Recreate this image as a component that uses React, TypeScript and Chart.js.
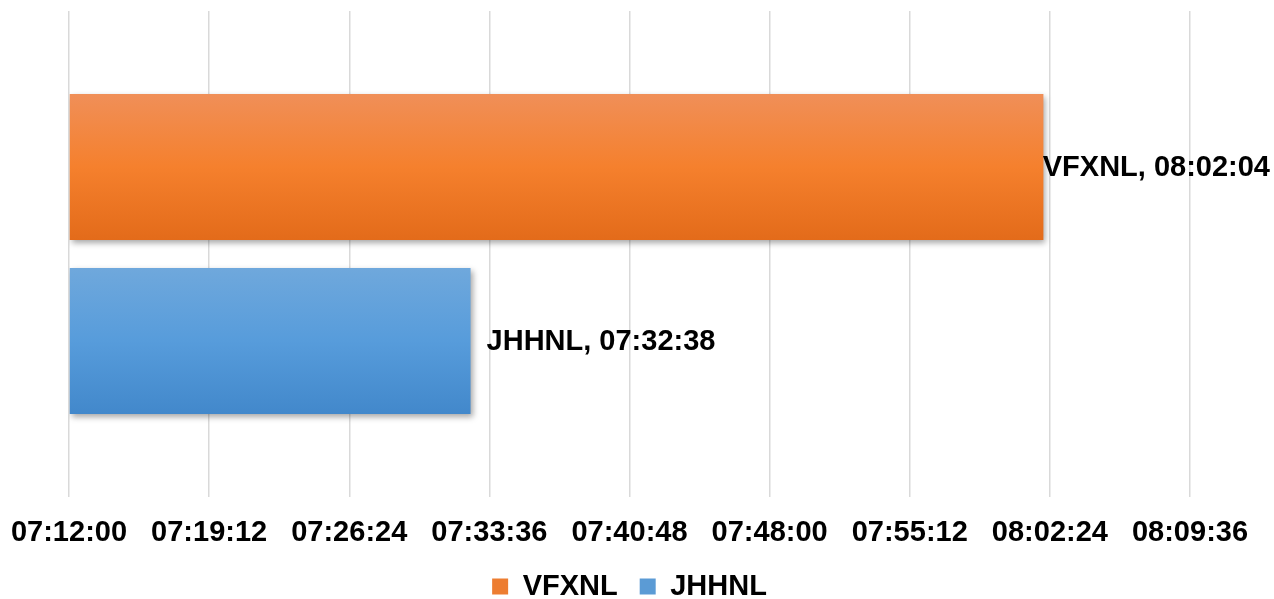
import React, { useEffect, useRef } from "react";
import { Chart, registerables } from "chart.js";

Chart.register(...registerables);

const categories = [""];
const seriesNames = ["VFXNL", "JHHNL"];
const seriesTimes = ["08:02:04", "07:32:38"];
const tickLabels = [
  "07:12:00", "07:19:12", "07:26:24", "07:33:36", "07:40:48",
  "07:48:00", "07:55:12", "08:02:24", "08:09:36",
];
const seriesColors = ["#ED7D31", "#5B9BD5"];
const seriesGradients = [
  ["#F08F58", "#F5802D", "#E36B1A"],
  ["#6FA8DC", "#579CDB", "#4288CB"],
];

const toSec = (t: string) => {
  const [h, m, s] = t.split(":").map(Number);
  return h * 3600 + m * 60 + s;
};
const pad = (n: number) => String(n).padStart(2, "0");
const fmt = (v: number) =>
  `${pad(Math.floor(v / 3600))}:${pad(Math.floor((v % 3600) / 60))}:${pad(Math.round(v % 60))}`;

const FONT = "'Liberation Sans', Arial, sans-serif";

const gradientPlugin = {
  id: "barGradient",
  beforeDatasetsDraw(chart: any) {
    const ctx = chart.ctx;
    chart.data.datasets.forEach((ds: any, i: number) => {
      const meta = chart.getDatasetMeta(i);
      meta.data.forEach((el: any) => {
        const top = el.y - el.height / 2;
        const bottom = el.y + el.height / 2;
        const g = ctx.createLinearGradient(0, top, 0, bottom);
        const stops = seriesGradients[i];
        g.addColorStop(0, stops[0]);
        g.addColorStop(0.5, stops[1]);
        g.addColorStop(1, stops[2]);
        el.options = Object.assign({}, el.options, { backgroundColor: g });
      });
    });
  },
  beforeDatasetDraw(chart: any) {
    const ctx = chart.ctx;
    ctx.save();
    ctx.shadowColor = "rgba(0,0,0,0.35)";
    ctx.shadowBlur = 6;
    ctx.shadowOffsetX = 2;
    ctx.shadowOffsetY = 3;
  },
  afterDatasetDraw(chart: any) {
    chart.ctx.restore();
  },
  afterDatasetsDraw(chart: any) {
    const ctx = chart.ctx;
    ctx.save();
    ctx.font = `bold 29px ${FONT}`;
    ctx.fillStyle = "#000";
    ctx.textBaseline = "middle";
    ctx.textAlign = "left";
    chart.data.datasets.forEach((ds: any, i: number) => {
      const meta = chart.getDatasetMeta(i);
      meta.data.forEach((el: any, j: number) => {
        const text = `${ds.label}, ${fmt(ds.data[j])}`;
        const w = ctx.measureText(text).width;
        let x = el.x + 16;
        if (x + w > chart.width - 4) x = chart.width - 4 - w;
        ctx.fillText(text, x, el.y + 1);
      });
    });
    ctx.restore();
  },
};

export default function App() {
  const ref = useRef<HTMLCanvasElement>(null);
  useEffect(() => {
    const base = toSec(tickLabels[0]);
    const chart = new Chart(ref.current!, {
      type: "bar",
      data: {
        labels: categories,
        datasets: seriesNames.map((name, i) => ({
          label: name,
          data: [toSec(seriesTimes[i])],
          backgroundColor: seriesColors[i],
          borderWidth: 0,
          base,
          barPercentage: 0.84,
          categoryPercentage: 0.716,
        })),
      },
      options: {
        indexAxis: "y",
        responsive: false,
        animation: false,
        layout: { padding: { top: 11, left: 69, right: 84, bottom: -12 } },
        scales: {
          x: {
            type: "linear",
            min: toSec(tickLabels[0]),
            max: toSec(tickLabels[tickLabels.length - 1]),
            afterBuildTicks: (scale: any) => {
              scale.ticks = tickLabels.map((t) => ({ value: toSec(t) }));
            },
            afterFit: (scale: any) => {
              scale.height = 53;
            },
            ticks: {
              callback: (v: any) => fmt(Number(v)),
              color: "#000",
              font: { family: FONT, size: 29, weight: "bold", lineHeight: "72px" },
              padding: 0,
              maxRotation: 0,
              autoSkip: false,
            },
            grid: { color: "#d9d9d9", lineWidth: 1.5, drawTicks: false },
            border: { display: false },
          },
          y: { display: false },
        },
        plugins: {
          legend: {
            position: "bottom",
            labels: {
              color: "#000",
              font: { family: FONT, size: 29, weight: "bold" },
              boxWidth: 16,
              boxHeight: 16,
              padding: 22,
            },
          },
          tooltip: { enabled: false },
        },
      },
      plugins: [gradientPlugin],
    } as any);
    return () => chart.destroy();
  }, []);
  return (
    <div style={{ position: "absolute", left: 0, top: 0, width: 1274, height: 599, background: "#fff" }}>
      <canvas ref={ref} width={1274} height={599} style={{ display: "block" }} />
    </div>
  );
}
